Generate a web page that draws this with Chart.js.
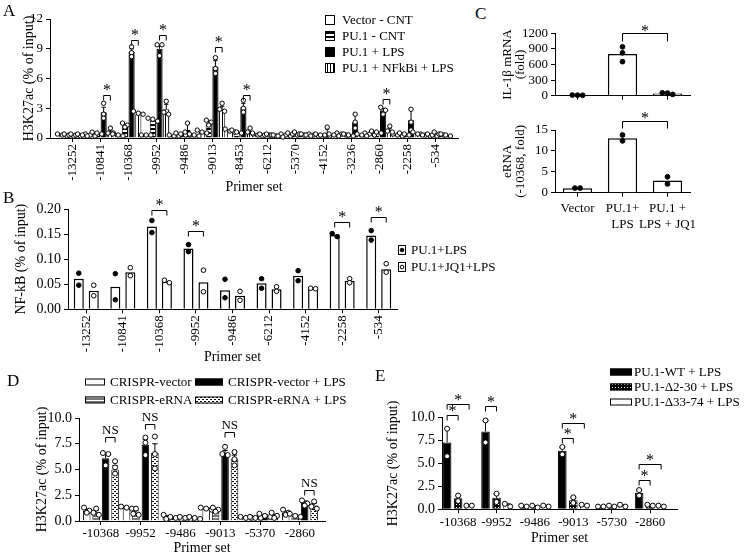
<!DOCTYPE html>
<html>
<head>
<meta charset="utf-8">
<script src="https://cdn.jsdelivr.net/npm/chart.js@4"></script>
<style>
  body { margin: 0; width: 745px; height: 558px; position: relative; background: #fff; overflow: hidden;
         font-family: 'Liberation Serif', 'Times New Roman', serif; }
  canvas { position: absolute; }
  .tag { position: absolute; font-size: 17px; line-height: 17px; }
</style>
</head>
<body>
<canvas id="panelA" width="460" height="196" style="left:0;top:0"></canvas>
<canvas id="panelB" width="500" height="170" style="left:0;top:196px"></canvas>
<canvas id="panelC1" width="215" height="105" style="left:495px;top:0"></canvas>
<canvas id="panelC2" width="215" height="140" style="left:495px;top:105px"></canvas>
<canvas id="panelD" width="380" height="193" style="left:0;top:365px"></canvas>
<canvas id="panelE" width="365" height="193" style="left:380px;top:365px"></canvas>
<div class="tag" style="left:3px;top:2px">A</div>
<div class="tag" style="left:3px;top:189px">B</div>
<div class="tag" style="left:475px;top:5px">C</div>
<div class="tag" style="left:7px;top:372px">D</div>
<div class="tag" style="left:375px;top:367px">E</div>
<script>
// ---- Panel A data (H3K27ac, % of input) ----
const primersA = ['-13252', '-10841', '-10368', '-9952', '-9486', '-9013', '-8453', '-6212', '-5370', '-4152', '-3236', '-2860', '-2258', '-534'];
const vectorCnt = [0.3, 0.3, 0.3, 0.3, 0.2, 0.6, 0.7, 0.3, 0.3, 0.3, 0.4, 0.4, 0.3, 0.3];
const pu1Cnt = [0.3, 0.5, 1.2, 1.8, 0.4, 1.5, 0.6, 0.3, 0.4, 0.3, 0.3, 0.6, 0.4, 0.3];
const pu1Lps = [0.3, 2.6, 8.7, 9.0, 0.8, 7.2, 3.1, 0.3, 0.4, 0.5, 1.6, 2.8, 1.8, 0.4];
const pu1NfkbiLps = [0.3, 0.6, 2.4, 2.9, 0.3, 2.9, 0.7, 0.2, 0.3, 0.3, 0.3, 0.8, 0.4, 0.3];
const vectorCntErr = [0.05, 0.05, 0.1, 0.02, 0.05, 0.1, 0.1, 0.05, 0.05, 0.05, 0.05, 0.05, 0.05, 0.05];
const pu1CntErr = [0.05, 0.05, 0.15, 0.1, 0.05, 0.2, 0.1, 0.03, 0.05, 0.05, 0.05, 0.05, 0.05, 0.05];
const pu1LpsErr = [0.05, 0.5, 0.3, 0.35, 0.7, 0.6, 0.4, 0.05, 0.1, 0.4, 0.8, 0.2, 1.0, 0.1];
const pu1NfkbiLpsErr = [0.05, 0.2, 0.1, 0.5, 0.05, 0.3, 0.2, 0.05, 0.05, 0.05, 0.05, 0.2, 0.1, 0.05];
const vectorCntPts = [[0.2, 0.3, 0.4], [0.2, 0.3, 0.4], [0.2, 0.3, 0.5], [0.3, 0.3, 0.3], [0.2, 0.2, 0.3], [0.5, 0.6, 0.8], [0.6, 0.7, 0.9],
  [0.2, 0.3, 0.4], [0.2, 0.3, 0.4], [0.2, 0.3, 0.4], [0.3, 0.4, 0.5], [0.3, 0.4, 0.5], [0.2, 0.3, 0.4], [0.2, 0.3, 0.4]];
const pu1CntPts = [[0.2, 0.3, 0.4], [0.4, 0.5, 0.6], [1.1, 1.3, 1.5], [1.7, 1.9, 2.0], [0.3, 0.4, 0.5], [1.3, 1.6, 1.8], [0.5, 0.6, 0.8],
  [0.3, 0.3, 0.4], [0.3, 0.4, 0.5], [0.2, 0.3, 0.4], [0.2, 0.3, 0.4], [0.5, 0.6, 0.7], [0.3, 0.4, 0.5], [0.2, 0.3, 0.4]];
const pu1LpsPts = [[0.2, 0.3, 0.4], [2.0, 2.4, 3.5], [8.2, 8.6, 9.2], [8.3, 9.4, 9.4], [0.3, 0.6, 1.5], [6.5, 7.0, 8.1], [2.6, 3.0, 3.8],
  [0.2, 0.3, 0.4], [0.3, 0.4, 0.6], [0.2, 0.3, 1.1], [1.0, 1.6, 2.4], [2.4, 2.8, 3.1], [0.8, 1.6, 2.9], [0.3, 0.4, 0.6]];
const pu1NfkbiLpsPts = [[0.2, 0.3, 0.4], [0.4, 0.5, 1.0], [2.4, 2.5, 2.7], [2.4, 2.6, 3.7], [0.2, 0.3, 0.4], [2.7, 2.9, 3.5], [0.5, 0.6, 1.0],
  [0.1, 0.2, 0.3], [0.2, 0.3, 0.4], [0.2, 0.3, 0.4], [0.2, 0.3, 0.4], [0.6, 0.7, 1.2], [0.3, 0.4, 0.6], [0.2, 0.3, 0.4]];
const sigGroupsA = [1, 2, 3, 5, 6, 11];
const sigHeightsA = [4.3, 9.9, 10.4, 9.2, 4.3, 3.9];

// ---- Panel B data (NF-kB, % of input) ----
const primersB = ['-13252', '-10841', '-10368', '-9952', '-9486', '-6212', '-4152', '-2258', '-534'];
const pu1LpsB = [0.061, 0.045, 0.165, 0.121, 0.038, 0.052, 0.067, 0.148, 0.147];
const pu1Jq1LpsB = [0.037, 0.074, 0.055, 0.054, 0.027, 0.040, 0.042, 0.057, 0.080];
const pu1LpsBPts = [[0.072, 0.048], [0.071, 0.019], [0.177, 0.153], [0.129, 0.115], [0.060, 0.023], [0.061, 0.042], [0.077, 0.057], [0.145, 0.151], [0.157, 0.138]];
const pu1Jq1LpsBPts = [[0.048, 0.027], [0.083, 0.067], [0.058, 0.053], [0.078, 0.035], [0.036, 0.018], [0.045, 0.036], [0.041, 0.042], [0.061, 0.053], [0.091, 0.074]];
const sigGroupsB = [2, 3, 7, 8];
const sigHeightsB = [0.198, 0.157, 0.174, 0.185];

// ---- Panel C data ----
const groupsC = ['Vector', ['PU.1+', 'LPS'], ['PU.1 +', 'LPS + JQ1']];
const il1bMrna = [10, 800, 40];
const il1bMrnaPts = [[8, 10, 12], [940, 825, 655], [55, 25, 50]];
const eRna = [1.05, 13.0, 2.9];
const eRnaPts = [[1.1, 1.1], [13.8, 12.4], [3.8, 2.1]];

// ---- Panel D data (CRISPR) ----
const primersD = ['-10368', '-9952', '-9486', '-9013', '-5370', '-2860'];
const crisprVector = [1.0, 1.3, 0.4, 1.2, 0.3, 0.8];
const crisprERna = [0.85, 0.8, 0.3, 1.1, 0.35, 0.5];
const crisprVectorLps = [6.1, 7.4, 0.3, 6.6, 0.5, 1.75];
const crisprERnaLps = [5.0, 6.6, 0.3, 6.0, 0.5, 1.5];
const crisprVectorErr = [0.15, 0.1, 0.1, 0.05, 0.03, 0.15];
const crisprERnaErr = [0.2, 0.2, 0.05, 0.1, 0.03, 0.1];
const crisprVectorLpsErr = [0.4, 0.5, 0.05, 0.25, 0.1, 0.2];
const crisprERnaLpsErr = [0.4, 0.9, 0.05, 0.4, 0.15, 0.2];
const crisprVectorPts = [[0.8, 1.0, 1.3], [1.2, 1.3, 1.4], [0.2, 0.3, 0.6], [1.1, 1.2, 1.3], [0.3, 0.3, 0.4], [0.6, 0.8, 1.1]];
const crisprERnaPts = [[0.6, 0.8, 1.2], [0.6, 0.7, 1.2], [0.2, 0.3, 0.4], [0.9, 1.1, 1.3], [0.3, 0.3, 0.4], [0.4, 0.5, 0.7]];
const crisprVectorLpsPts = [[5.4, 6.5, 6.6], [6.4, 7.6, 8.1], [0.2, 0.3, 0.4], [6.4, 6.5, 7.2], [0.4, 0.5, 0.7], [1.5, 1.7, 2.0]];
const crisprERnaLpsPts = [[4.6, 5.2, 5.8], [5.1, 6.5, 8.2], [0.2, 0.3, 0.4], [5.4, 6.0, 6.7], [0.3, 0.5, 0.8], [1.2, 1.4, 1.9]];
const nsGroupsD = [0, 1, 3, 5];
const nsHeightsD = [8.2, 9.4, 8.6, 3.0];

// ---- Panel E data (PU.1 deletion mutants) ----
const primersE = ['-10368', '-9952', '-9486', '-9013', '-5730', '-2860'];
const wtLps = [7.3, 8.5, 0.35, 6.4, 0.3, 1.8];
const d2to30Lps = [1.2, 1.25, 0.3, 1.0, 0.3, 0.45];
const d33to74Lps = [0.4, 0.45, 0.35, 0.45, 0.4, 0.35];
const wtLpsErr = [1.5, 1.2, 0.05, 0.4, 0.02, 0.3];
const d2to30LpsErr = [0.3, 0.45, 0.1, 0.3, 0.05, 0.05];
const d33to74LpsErr = [0.02, 0.15, 0.05, 0.05, 0.1, 0.05];
const wtLpsPts = [[8.8, 5.8], [9.7, 7.3], [0.4, 0.3], [6.8, 6.0], [0.3, 0.3], [2.1, 1.5]];
const d2to30LpsPts = [[1.5, 0.9], [1.7, 0.8], [0.2, 0.4], [1.3, 0.7], [0.3, 0.4], [0.5, 0.4]];
const d33to74LpsPts = [[0.4, 0.4], [0.3, 0.6], [0.4, 0.3], [0.5, 0.4], [0.5, 0.3], [0.4, 0.3]];
// [group, first series, second series, bracket height]
const sigE = [[0, 0, 1, 10.3], [0, 0, 2, 11.5], [1, 0, 1, 11.3], [3, 0, 1, 7.75], [3, 0, 2, 9.45], [5, 0, 1, 3.2], [5, 0, 2, 4.95]];

Chart.defaults.font.family = "'Liberation Serif', 'Times New Roman', serif";
Chart.defaults.color = '#000';
Chart.defaults.animation = false;
Chart.defaults.plugins.legend.display = false;
Chart.defaults.plugins.tooltip.enabled = false;

function xy(values) {
  return values.map((v, i) => ({ x: i, y: v }));
}

// fill patterns for the hatched bars
function makePattern(kind) {
  const c = document.createElement('canvas');
  const g = c.getContext('2d');
  c.width = 4; c.height = 4;
  g.fillStyle = '#fff';
  g.fillRect(0, 0, 4, 4);
  g.fillStyle = '#000';
  if (kind === 'hstripe') {
    g.fillRect(0, 0, 4, 2);
  } else if (kind === 'vstripe') {
    c.width = 3; c.height = 3;
    g.fillStyle = '#fff'; g.fillRect(0, 0, 3, 3);
    g.fillStyle = '#000'; g.fillRect(0, 0, 1, 3);
  } else if (kind === 'grayStripe') {
    c.width = 3; c.height = 3;
    g.fillStyle = '#fff'; g.fillRect(0, 0, 3, 3);
    g.fillStyle = '#777'; g.fillRect(0, 0, 3, 2);
  } else if (kind === 'checker') {
    g.fillRect(0, 0, 2, 1);
    g.fillRect(2, 2, 2, 1);
  } else if (kind === 'blackDots') {
    c.width = 3; c.height = 3;
    g.fillStyle = '#000'; g.fillRect(0, 0, 3, 3);
    g.fillStyle = '#fff'; g.fillRect(1, 1, 1, 1);
  }
  return g.createPattern(c, 'repeat');
}

// error bars, replicate dots, significance brackets, legend
const marksPlugin = {
  id: 'marks',
  afterDatasetsDraw(chart, args, opts) {
    const ctx = chart.ctx;
    const yScale = chart.scales.y;
    const r = opts.r || 2.5;
    ctx.save();
    ctx.strokeStyle = '#000';
    ctx.lineWidth = 1;

    chart.data.datasets.forEach((ds, i) => {
      const meta = chart.getDatasetMeta(i);
      meta.data.forEach((bar, j) => {
        const raw = ds.data[j];
        const val = typeof raw === 'object' ? raw.y : raw;
        if (ds.err && ds.err[j] > 0) {
          const top = yScale.getPixelForValue(val + ds.err[j]);
          const half = Math.max(bar.width * 0.35, 2);
          ctx.beginPath();
          ctx.moveTo(bar.x, bar.y);
          ctx.lineTo(bar.x, top);
          ctx.moveTo(bar.x - half, top);
          ctx.lineTo(bar.x + half, top);
          ctx.stroke();
        }
      });
    });

    chart.data.datasets.forEach((ds, i) => {
      if (!ds.pts) return;
      const meta = chart.getDatasetMeta(i);
      meta.data.forEach((bar, j) => {
        const ys = ds.pts[j].map(v => yScale.getPixelForValue(v)).sort((a, b) => a - b);
        const rows = [];
        ys.forEach(py => {
          const row = rows.find(rw => Math.abs(rw[0] - py) < r * 1.6);
          if (row) row.push(py); else rows.push([py]);
        });
        rows.forEach(row => row.forEach((py, m) => {
          const dx = (m - (row.length - 1) / 2) * (r * 2 + 0.4);
          ctx.beginPath();
          ctx.arc(bar.x + dx, py, r, 0, Math.PI * 2);
          ctx.fillStyle = ds.dotFill;
          ctx.fill();
          ctx.stroke();
        }));
      });
    });

    (opts.brackets || []).forEach(b => {
      const p1 = chart.getDatasetMeta(b.a[0]).data[b.a[1]];
      const p2 = chart.getDatasetMeta(b.b[0]).data[b.b[1]];
      const yy = Math.round(yScale.getPixelForValue(b.v)) + 0.5;
      const drop = opts.drop || 5;
      ctx.beginPath();
      ctx.moveTo(p1.x, yy + drop);
      ctx.lineTo(p1.x, yy);
      ctx.lineTo(p2.x, yy);
      ctx.lineTo(p2.x, yy + drop);
      ctx.stroke();
      ctx.fillStyle = '#000';
      ctx.textAlign = 'center';
      ctx.textBaseline = 'alphabetic';
      if (b.text === '*') {
        ctx.font = `${opts.starSize || 16}px 'Liberation Serif'`;
        ctx.fillText('*', (p1.x + p2.x) / 2, yy - (opts.starGap || 9) + (opts.starSize || 16) * 0.5);
      } else {
        ctx.font = "13px 'Liberation Serif'";
        ctx.fillText(b.text, (p1.x + p2.x) / 2, yy - 4);
      }
    });

    const lg = opts.legend;
    if (lg) {
      ctx.font = `${lg.font}px 'Liberation Serif'`;
      ctx.textAlign = 'left';
      ctx.textBaseline = 'middle';
      lg.items.forEach(it => {
        const ds = chart.data.datasets[it.ds];
        const w = it.w || lg.w;
        const h = lg.h;
        ctx.fillStyle = ds.backgroundColor;
        ctx.fillRect(it.x, it.y - h / 2, w, h);
        ctx.strokeRect(it.x + 0.5, it.y - h / 2 + 0.5, w - 1, h - 1);
        if (lg.dot) {
          ctx.beginPath();
          ctx.arc(it.x + w / 2, it.y, 1.8, 0, Math.PI * 2);
          ctx.fillStyle = ds.dotFill;
          ctx.fill();
          ctx.stroke();
        }
        ctx.fillStyle = '#000';
        ctx.fillText(ds.label, it.x + w + lg.gap, it.y + 1);
      });
    }
    ctx.restore();
  }
};

function primerAxis(labels, o) {
  return {
    type: 'linear', min: o.min, max: o.max, offset: false,
    afterBuildTicks: s => { s.ticks = labels.map((l, i) => ({ value: i })); },
    afterFit: s => { s.height = o.height; s.paddingLeft = 0; s.paddingRight = 0; },
    ticks: { autoSkip: false, minRotation: o.rot, maxRotation: o.rot, padding: o.pad, font: { size: o.font }, callback: v => labels[v] },
    grid: { drawOnChartArea: false, tickLength: 4, color: '#000', offset: false },
    border: { color: '#000' },
    title: { display: true, text: 'Primer set', font: { size: 14 }, padding: { top: 0, bottom: o.titlePad } }
  };
}

function valueAxis(o) {
  return {
    min: 0, max: o.max,
    afterFit: s => { s.width = o.width; s.paddingTop = 0; s.paddingBottom = 0; },
    ticks: { stepSize: o.step, autoSkip: false, font: { size: o.font }, padding: 3, callback: o.fmt },
    grid: { drawOnChartArea: false, tickLength: 4, color: '#000' },
    border: { color: '#000' },
    title: { display: true, text: o.title, font: { size: o.titleFont, lineHeight: o.lh || 1.2 }, padding: { top: o.titlePad, bottom: 0 } }
  };
}

// Panel A - H3K27ac at the IL-1b enhancer primer sets
new Chart(document.getElementById('panelA'), {
  type: 'bar',
  data: {
    datasets: [
      { label: 'Vector - CNT', data: xy(vectorCnt), err: vectorCntErr, pts: vectorCntPts, backgroundColor: '#fff', dotFill: '#fff' },
      { label: 'PU.1 - CNT', data: xy(pu1Cnt), err: pu1CntErr, pts: pu1CntPts, backgroundColor: makePattern('hstripe'), dotFill: '#fff' },
      { label: 'PU.1 + LPS', data: xy(pu1Lps), err: pu1LpsErr, pts: pu1LpsPts, backgroundColor: '#000', dotFill: '#fff' },
      { label: 'PU.1 + NFkBi + LPS', data: xy(pu1NfkbiLps), err: pu1NfkbiLpsErr, pts: pu1NfkbiLpsPts, backgroundColor: makePattern('vstripe'), dotFill: '#fff' }
    ].map(d => Object.assign(d, { borderColor: '#000', borderWidth: 1, categoryPercentage: 0.96, barPercentage: 0.92 }))
  },
  options: {
    responsive: false,
    layout: { padding: { top: 19, right: 2, bottom: 0, left: 0 } },
    scales: {
      x: primerAxis(primersA, { min: -0.8, max: 13.8, height: 58, rot: 90, pad: 2, font: 13, titlePad: 0 }),
      y: valueAxis({ max: 12, step: 3, width: 50, font: 13, title: 'H3K27ac (% of input)', titleFont: 14, titlePad: 21 })
    },
    plugins: {
      marks: {
        r: 2.2, drop: 5, starGap: 9,
        brackets: sigGroupsA.map((g, k) => ({ a: [2, g], b: [3, g], v: sigHeightsA[k], text: '*' })),
        legend: { font: 13, w: 10, h: 10, gap: 7, items: [
          { ds: 0, x: 325, y: 20 }, { ds: 1, x: 325, y: 36 }, { ds: 2, x: 325, y: 52 }, { ds: 3, x: 325, y: 68 }] }
      }
    }
  },
  plugins: [marksPlugin]
});

// Panel B - NF-kB ChIP with JQ1
new Chart(document.getElementById('panelB'), {
  type: 'bar',
  data: {
    datasets: [
      { label: 'PU.1+LPS', data: xy(pu1LpsB), pts: pu1LpsBPts, backgroundColor: '#fff', dotFill: '#000' },
      { label: 'PU.1+JQ1+LPS', data: xy(pu1Jq1LpsB), pts: pu1Jq1LpsBPts, backgroundColor: '#fff', dotFill: '#fff' }
    ].map(d => Object.assign(d, { borderColor: '#000', borderWidth: 1.5, categoryPercentage: 0.82, barPercentage: 0.67 }))
  },
  options: {
    responsive: false,
    layout: { padding: { top: 13, right: 103, bottom: 0, left: 0 } },
    scales: {
      x: primerAxis(primersB, { min: -0.5, max: 8.5, height: 56.7, rot: 90, pad: 2, font: 13, titlePad: 0.6 }),
      y: valueAxis({ max: 0.2, step: 0.05, width: 68, font: 14, fmt: v => v.toFixed(2), title: 'NF-kB (% of input)', titleFont: 14, titlePad: 12.6 })
    },
    plugins: {
      marks: {
        r: 2.3, drop: 5, starGap: 9,
        brackets: sigGroupsB.map((g, k) => ({ a: [0, g], b: [1, g], v: sigHeightsB[k], text: '*' })),
        legend: { font: 13, w: 8, h: 10, gap: 5, dot: true, items: [{ ds: 0, x: 398, y: 54 }, { ds: 1, x: 398, y: 71 }] }
      }
    }
  },
  plugins: [marksPlugin]
});

// Panel C - IL-1b mRNA and eRNA
function groupAxisC(showLabels, height) {
  return {
    afterFit: s => { s.height = height; s.paddingLeft = 0; s.paddingRight = 0; },
    ticks: { display: showLabels, autoSkip: false, minRotation: 0, maxRotation: 0, font: { size: 13 }, padding: 4 },
    grid: { drawOnChartArea: false, tickLength: 4, color: '#000', offset: false },
    border: { color: '#000' }
  };
}

new Chart(document.getElementById('panelC1'), {
  type: 'bar',
  data: {
    labels: groupsC,
    datasets: [{ label: 'IL-1β mRNA', data: il1bMrna, pts: il1bMrnaPts, backgroundColor: '#fff', borderColor: '#000',
      borderWidth: 1.5, dotFill: '#000', categoryPercentage: 1, barPercentage: 0.65 }]
  },
  options: {
    responsive: false,
    layout: { padding: { top: 33.3, right: 20, bottom: 0, left: 0 } },
    scales: {
      x: groupAxisC(false, 9.3),
      y: valueAxis({ max: 1200, step: 300, width: 60, font: 13, title: ['IL-1β mRNA', '(fold)'], titleFont: 13, lh: 1, titlePad: 6.5 })
    },
    plugins: { marks: { r: 2.4, drop: 8, starGap: 6, brackets: [{ a: [0, 1], b: [0, 2], v: 1200, text: '*' }] } }
  },
  plugins: [marksPlugin]
});

new Chart(document.getElementById('panelC2'), {
  type: 'bar',
  data: {
    labels: groupsC,
    datasets: [{ label: 'eRNA', data: eRna, pts: eRnaPts, backgroundColor: '#fff', borderColor: '#000',
      borderWidth: 1.5, dotFill: '#000', categoryPercentage: 1, barPercentage: 0.65 }]
  },
  options: {
    responsive: false,
    layout: { padding: { top: 25, right: 20, bottom: 0, left: 0 } },
    scales: {
      x: groupAxisC(true, 52.3),
      y: valueAxis({ max: 15, step: 5, width: 60, font: 13, title: ['eRNA', '(-10368, fold)'], titleFont: 13, lh: 1, titlePad: 6.5 })
    },
    plugins: { marks: { r: 2.4, drop: 7, starGap: 7, brackets: [{ a: [0, 1], b: [0, 2], v: 17.2, text: '*' }] } }
  },
  plugins: [marksPlugin]
});

// Panel D - CRISPR eRNA knockdown
new Chart(document.getElementById('panelD'), {
  type: 'bar',
  data: {
    datasets: [
      { label: 'CRISPR-vector', data: xy(crisprVector), err: crisprVectorErr, pts: crisprVectorPts, backgroundColor: '#fff', dotFill: '#fff' },
      { label: 'CRISPR-eRNA', data: xy(crisprERna), err: crisprERnaErr, pts: crisprERnaPts, backgroundColor: makePattern('grayStripe'), dotFill: '#fff' },
      { label: 'CRISPR-vector + LPS', data: xy(crisprVectorLps), err: crisprVectorLpsErr, pts: crisprVectorLpsPts, backgroundColor: '#000', dotFill: '#fff' },
      { label: 'CRISPR-eRNA + LPS', data: xy(crisprERnaLps), err: crisprERnaLpsErr, pts: crisprERnaLpsPts, backgroundColor: makePattern('checker'), dotFill: '#fff' }
    ].map(d => Object.assign(d, { borderColor: '#000', borderWidth: 1, categoryPercentage: 0.95, barPercentage: 0.8 }))
  },
  options: {
    responsive: false,
    layout: { padding: { top: 53, right: 55, bottom: 0, left: 0 } },
    scales: {
      x: primerAxis(primersD, { min: -0.55, max: 5.63, height: 37, rot: 0, pad: 1, font: 13, titlePad: 1 }),
      y: valueAxis({ max: 10, step: 2.5, width: 79, font: 14, fmt: v => v.toFixed(1), title: 'H3K27ac (% of input)', titleFont: 14, titlePad: 34 })
    },
    plugins: {
      marks: {
        r: 2.5, drop: 5,
        brackets: nsGroupsD.map((g, k) => ({ a: [2, g], b: [3, g], v: nsHeightsD[k], text: 'NS' })),
        legend: { font: 13, w: 20, h: 7, gap: 5, items: [
          { ds: 0, x: 85, y: 17 }, { ds: 2, x: 195, y: 17, w: 28 }, { ds: 1, x: 85, y: 35 }, { ds: 3, x: 195, y: 35, w: 28 }] }
      }
    }
  },
  plugins: [marksPlugin]
});

// Panel E - PU.1 deletion mutants
new Chart(document.getElementById('panelE'), {
  type: 'bar',
  data: {
    datasets: [
      { label: 'PU.1-WT + LPS', data: xy(wtLps), err: wtLpsErr, pts: wtLpsPts, backgroundColor: '#000', dotFill: '#fff' },
      { label: 'PU.1-Δ2-30 + LPS', data: xy(d2to30Lps), err: d2to30LpsErr, pts: d2to30LpsPts, backgroundColor: makePattern('blackDots'), dotFill: '#fff' },
      { label: 'PU.1-Δ33-74 + LPS', data: xy(d33to74Lps), err: d33to74LpsErr, pts: d33to74LpsPts, backgroundColor: '#fff', dotFill: '#fff' }
    ].map(d => Object.assign(d, { borderColor: '#000', borderWidth: 1, categoryPercentage: 0.86, barPercentage: 0.78 }))
  },
  options: {
    responsive: false,
    layout: { padding: { top: 52.7, right: 68, bottom: 0, left: 0 } },
    scales: {
      x: primerAxis(primersE, { min: -0.42, max: 5.7, height: 48.7, rot: 0, pad: 1, font: 13, titlePad: 11.6 }),
      y: valueAxis({ max: 10, step: 2.5, width: 62, font: 14, fmt: v => v.toFixed(1), title: 'H3K27ac (% of input)', titleFont: 14, titlePad: 4.6 })
    },
    plugins: {
      marks: {
        r: 2.5, drop: 5, starGap: 8,
        brackets: sigE.map(s => ({ a: [s[1], s[0]], b: [s[2], s[0]], v: s[3], text: '*' })),
        legend: { font: 13, w: 22, h: 7, gap: 2, items: [{ ds: 0, x: 230, y: 7 }, { ds: 1, x: 230, y: 22 }, { ds: 2, x: 230, y: 37 }] }
      }
    }
  },
  plugins: [marksPlugin]
});
</script>
</body>
</html>
